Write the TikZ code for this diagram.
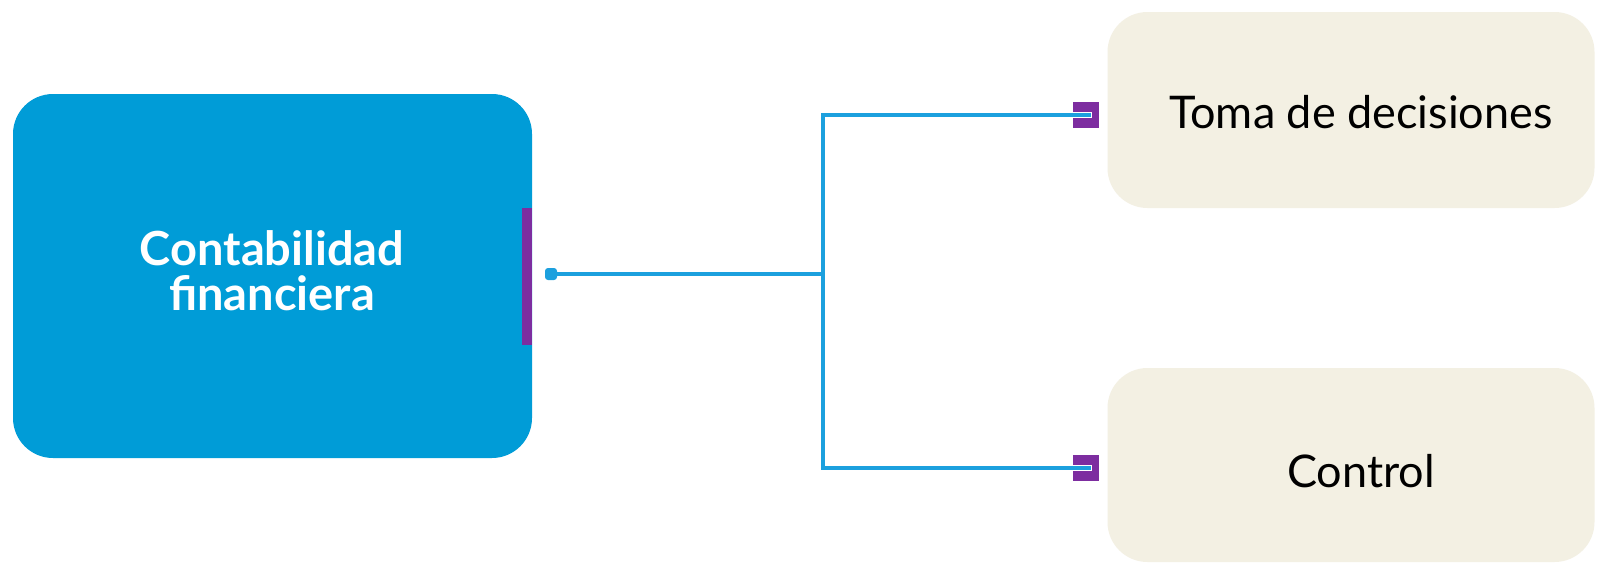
\documentclass[tikz,border=0pt]{standalone}
\usepackage{fontspec}
\setmainfont{Lato}
\usetikzlibrary{calc}
\definecolor{mainblue}{RGB}{0,156,215}
\definecolor{linecyan}{RGB}{28,160,222}
\definecolor{beige}{RGB}{243,240,227}
\definecolor{violet2}{RGB}{125,45,160}
\tikzset{
  mainbox/.style={fill=mainblue, rounded corners=40pt, inner sep=0pt, draw=none},
  leafbox/.style={fill=beige, rounded corners=40pt, inner sep=0pt, draw=none},
  endsq/.style={fill=violet2, minimum size=26pt, inner sep=0pt, draw=none},
  conn/.style={draw=linecyan, line width=3.6pt},
  whitetxt/.style={text=white, font=\fontsize{47}{47}\selectfont\bfseries, inner sep=0pt, anchor=base},
  blacktxt/.style={text=black, font=\fontsize{45}{45}\selectfont, inner sep=0pt, anchor=base},
}
\begin{document}
\begin{tikzpicture}[x=1pt,y=-1pt]
\useasboundingbox (0,0) rectangle (1618,563);
\fill[white] (0,0) rectangle (1618,563);
% main box
\node[mainbox, minimum width=519pt, minimum height=364pt] (cf) at (272.5,276) {};
\fill[violet2] (522,208) rectangle (532,345);
\node[whitetxt] (t1) at (272,265) {Contabilidad};
\node[whitetxt] (t2) at (272,310) {financiera};
% leaf boxes
\node[leafbox, minimum width=487pt, minimum height=196pt] (td) at (1351,110) {};
\node[blacktxt] (tdt) at (1361,128) {Toma de decisiones};
\node[leafbox, minimum width=487pt, minimum height=194pt] (ct) at (1351,465) {};
\node[blacktxt] (ctt) at (1361,487) {Control};
% end squares
\node[endsq] (s1) at (1086,115) {};
\node[endsq] (s2) at (1086,468) {};
% start dot
\node[fill=linecyan, minimum size=12pt, inner sep=0pt, rounded corners=3pt] (dot) at (551,274) {};
\coordinate (j) at (823,274);
\coordinate (jt) at (823,115);
\coordinate (jb) at (823,468);
\draw[conn] (dot.center) -- (j);
\draw[conn, line cap=rect] (jt) -- (jb);
\draw[draw=white, line width=6pt] (s1.west) -- ($(s1.center)+(6,0)$);
\draw[draw=white, line width=6pt] (s2.west) -- ($(s2.center)+(6,0)$);
\draw[conn] (jt) -- ($(s1.center)+(5,0)$);
\draw[conn] (jb) -- ($(s2.center)+(5,0)$);
\end{tikzpicture}
\end{document}
